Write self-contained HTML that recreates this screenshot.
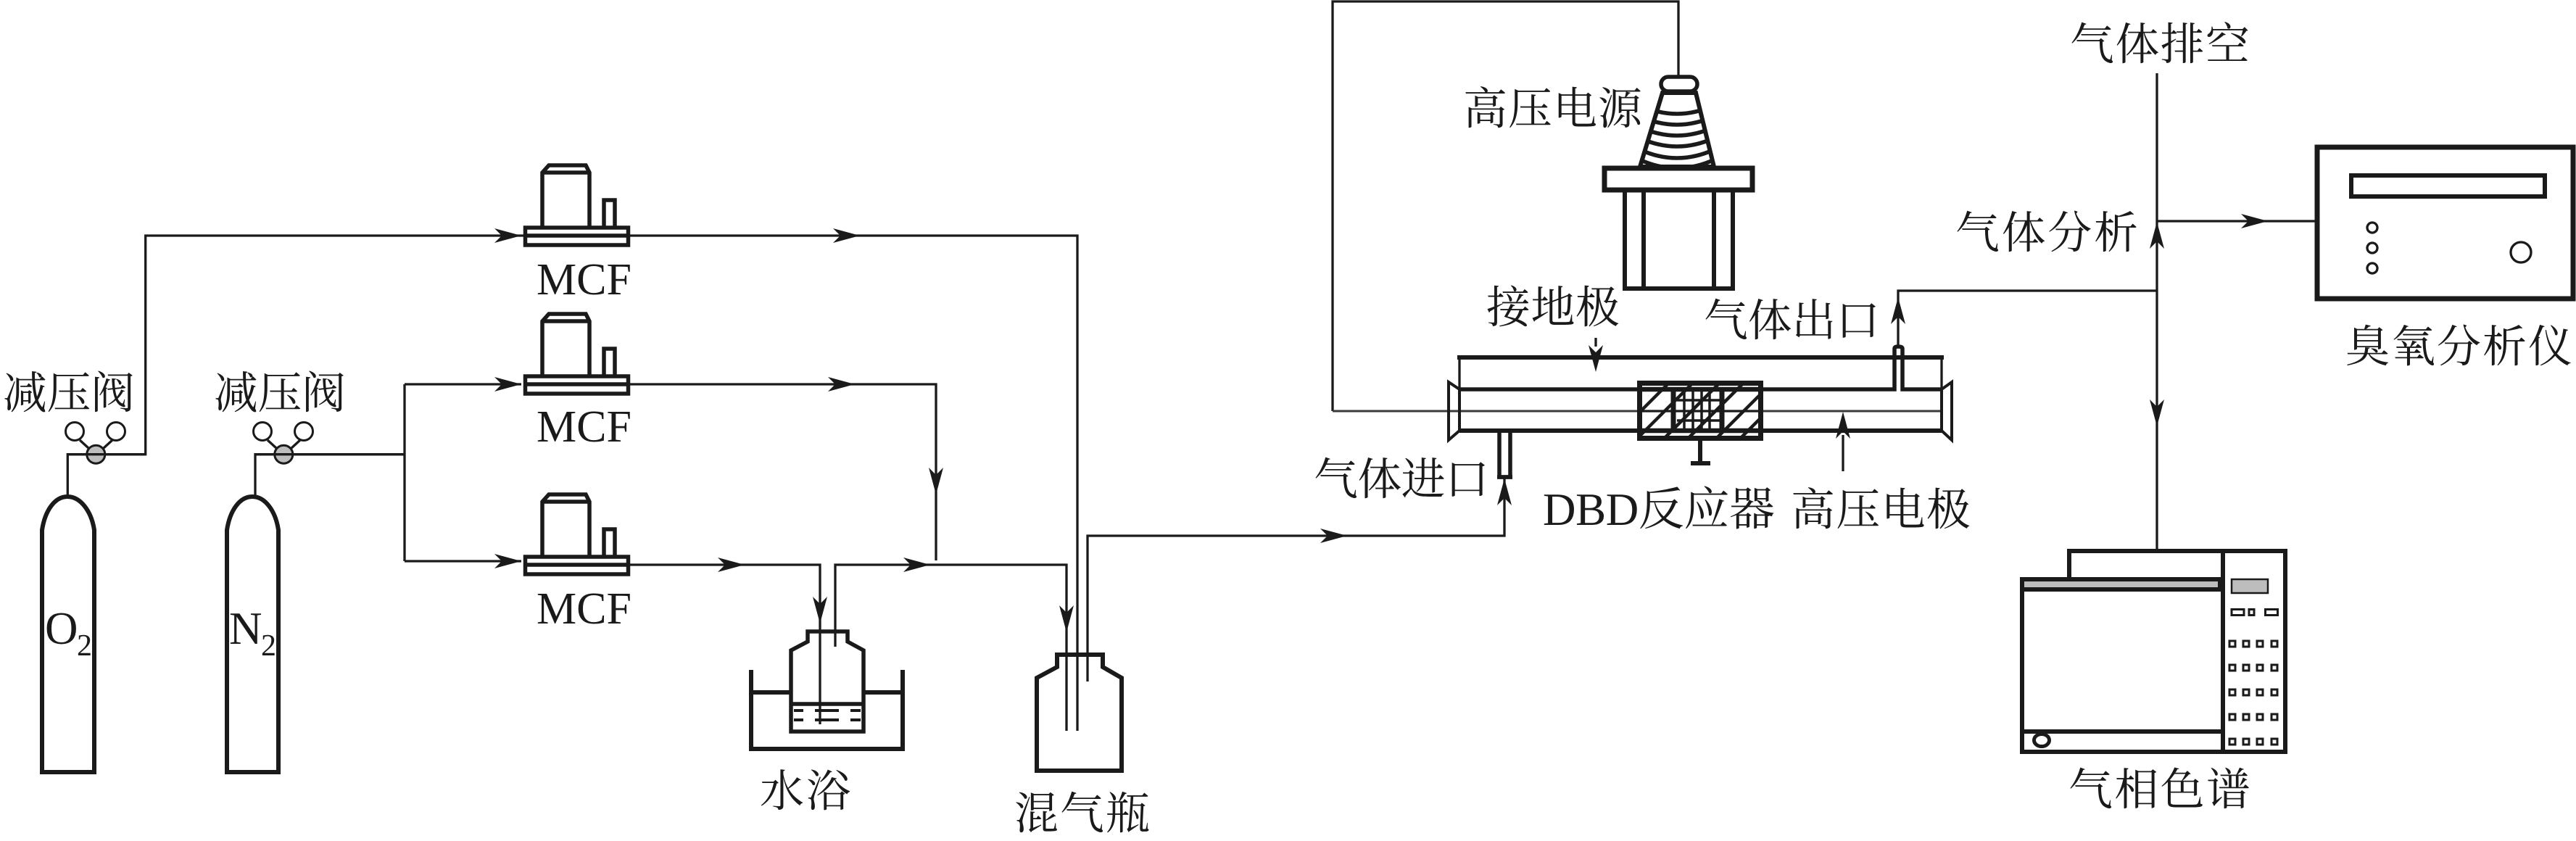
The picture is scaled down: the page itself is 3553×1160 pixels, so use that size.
<!DOCTYPE html>
<html lang="zh">
<head>
<meta charset="utf-8">
<title>DBD反应器实验装置示意图</title>
<style>
html,body{margin:0;padding:0;background:#fff}
svg{display:block}
text{font-family:"Liberation Serif","Noto Serif CJK SC",serif;fill:#1a1a1a;font-size:61px}
.l{fill:none;stroke:#1a1a1a;stroke-width:3.300}
.t{fill:none;stroke:#1a1a1a;stroke-width:6}
.m{fill:none;stroke:#1a1a1a;stroke-width:5.500}
.w{fill:#fff;stroke:#1a1a1a;stroke-width:5.500}
</style>
</head>
<body>
<svg width="3553" height="1160" viewBox="0 0 3553 1160" xmlns="http://www.w3.org/2000/svg">
<defs>
<path id="a" d="M0 0L-37 -10L-27 0L-37 10Z" fill="#1a1a1a"/>
<clipPath id="cone"><polygon points="2293,128 2339,128 2364,230 2262,230"/></clipPath>
<clipPath id="blk"><rect x="2262" y="528" width="167" height="77"/></clipPath>
<g id="mcf">
<rect x="724.500" y="-11" width="142" height="24" class="m"/>
<line x1="724.500" y1="0" x2="866.500" y2="0" class="m"/>
<path d="M748 -11V-87L757 -97H808L813 -87V-11M748 -87H813" class="m"/>
<path d="M833 -11V-49H848V-11" class="m"/>
</g>
</defs>
<rect width="3553" height="1160" fill="#fff"/>

<!-- gas cylinders -->
<path d="M58 1065V731C62 705 75 685 93 685C111 685 126 705 130 731V1065Z" class="t"/>
<path d="M313 1065V731C317 705 330 685 348 685C366 685 380 705 384 731V1065Z" class="t"/>
<text x="62" y="888" style="font-size:63px">O</text>
<text x="106" y="904" style="font-size:42px">2</text>
<text x="316" y="888" style="font-size:63px">N</text>
<text x="360" y="904" style="font-size:42px">2</text>

<!-- valves -->
<path d="M93.300 685V626.700H200.700V325H724" class="l"/>
<path d="M352 685V626.700H558M558 530V774M558 530H719M558 774H719" class="l"/>
<path d="M110 607L122 618M155 607L143 618M369 607L381 618M414 607L402 618" class="l"/>
<circle cx="103" cy="595" r="12.500" fill="#fff" stroke="#1a1a1a" stroke-width="3"/>
<circle cx="160" cy="595" r="12.500" fill="#fff" stroke="#1a1a1a" stroke-width="3"/>
<circle cx="362" cy="595" r="12.500" fill="#fff" stroke="#1a1a1a" stroke-width="3"/>
<circle cx="419" cy="595" r="12.500" fill="#fff" stroke="#1a1a1a" stroke-width="3"/>
<circle cx="132.300" cy="626.700" r="12.500" fill="#bdbdbd" stroke="#1a1a1a" stroke-width="3"/>
<circle cx="391.300" cy="626.700" r="12.500" fill="#bdbdbd" stroke="#1a1a1a" stroke-width="3"/>
<line x1="93.300" y1="626.700" x2="200.700" y2="626.700" stroke="#1a1a1a" stroke-width="3.300"/>
<line x1="352" y1="626.700" x2="558" y2="626.700" stroke="#1a1a1a" stroke-width="3.300"/>
<text x="4" y="563" textLength="182">减压阀</text>
<text x="295" y="563" textLength="182">减压阀</text>
<use href="#a" transform="translate(719,325)"/>
<use href="#a" transform="translate(719,530)"/>
<use href="#a" transform="translate(719,774)"/>

<!-- MCF units -->
<use href="#mcf" transform="translate(0,325)"/>
<use href="#mcf" transform="translate(0,530)"/>
<use href="#mcf" transform="translate(0,779)"/>
<text x="740" y="406" style="font-size:62px">MCF</text>
<text x="740" y="609" style="font-size:62px">MCF</text>
<text x="740" y="860" style="font-size:62px">MCF</text>

<!-- flow lines -->
<path d="M867 325H1486V1008" class="l"/>
<path d="M867 530H1291V773" class="l"/>
<path d="M867 779H1131V999" class="l"/>
<path d="M1152 892V779H1471V1008" class="l"/>
<path d="M1500 940V739H2075V660" class="l"/>
<use href="#a" transform="translate(1186,325)"/>
<use href="#a" transform="translate(1179,530)"/>
<use href="#a" transform="translate(1291,682) rotate(90)"/>
<use href="#a" transform="translate(1027,779)"/>
<use href="#a" transform="translate(1283,779)"/>
<use href="#a" transform="translate(1131,860) rotate(90)"/>
<use href="#a" transform="translate(1471,872) rotate(90)"/>
<use href="#a" transform="translate(1858,739)"/>
<use href="#a" transform="translate(2075,660) rotate(-90)"/>

<!-- water bath -->
<path d="M1036 924V1033H1245V924" class="t"/>
<path d="M1036 955H1091M1191 955H1245" class="t"/>
<path d="M1114 885V871H1169V885L1191 897V1009H1091V897Z" class="m"/>
<line x1="1091" y1="971" x2="1191" y2="971" class="m"/>
<path d="M1095 980H1108M1124 980H1157M1173 980H1187M1095 993H1108M1124 993H1157M1173 993H1187" class="l" style="stroke-width:4"/>
<text x="1048" y="1112" textLength="125">水浴</text>

<!-- mixing bottle -->
<path d="M1458 920V903H1521V920L1547 935V1063H1430V935Z" class="t"/>
<text x="1399" y="1143" textLength="187">混气瓶</text>

<!-- HV power supply -->
<path d="M1838 567V2H2315V104" class="l"/>
<path d="M2293 128L2262 230H2364L2339 128Z" fill="#fff" stroke="#1a1a1a" stroke-width="6"/>
<g clip-path="url(#cone)">
<path d="M2253 141Q2313 173 2373 141" class="m"/>
<path d="M2253 156Q2313 188 2373 156" class="m"/>
<path d="M2253 171Q2313 203 2373 171" class="m"/>
<path d="M2253 186Q2313 218 2373 186" class="m"/>
<path d="M2253 202Q2313 234 2373 202" class="m"/>
<path d="M2253 216Q2313 248 2373 216" class="m"/>
</g>
<rect x="2291" y="106" width="50" height="20" rx="10" class="w"/>
<rect x="2213" y="232" width="204" height="30" style="fill:#fff;stroke:#1a1a1a;stroke-width:7"/>
<path d="M2241 265V398H2390V265M2267 265V398M2364 265V398" class="t"/>
<text x="2018" y="171" textLength="247">高压电源</text>

<!-- reactor -->
<path d="M2013 537V493M2678 493V537" class="l"/>
<line x1="2010" y1="493" x2="2681" y2="493" class="t"/>
<line x1="1838" y1="567" x2="2677" y2="567" stroke="#3a3a3a" stroke-width="3"/>
<path d="M2013 537H2613V481Q2613 478 2618 478Q2624 478 2624 481V537H2678" class="m"/>
<line x1="2013" y1="594" x2="2678" y2="594" class="t"/>
<path d="M2013 537V594L1998 607V527Z" fill="none" stroke="#1a1a1a" stroke-width="4"/>
<path d="M2678 537V594L2692 607V527Z" fill="none" stroke="#1a1a1a" stroke-width="4"/>
<path d="M2068 597V658H2083V597" class="m"/>
<line x1="2065" y1="658" x2="2086" y2="658" class="m"/>

<!-- electrode block -->
<rect x="2261" y="528" width="168" height="77" fill="#fff"/>
<path d="M2261 537H2429M2261 594H2429" stroke="#1a1a1a" stroke-width="6.500" fill="none"/>
<line x1="2261" y1="567" x2="2429" y2="567" stroke="#1a1a1a" stroke-width="3.300"/>
<path d="M2323 540V592M2335 540V592M2347 540V592M2358 540V592M2313 552H2372M2313 580H2372" stroke="#1a1a1a" stroke-width="3.500" fill="none"/>
<g clip-path="url(#blk)" stroke="#1a1a1a" stroke-width="4.500">
<line x1="2220" y1="610" x2="2310" y2="520"/>
<line x1="2253" y1="610" x2="2343" y2="520"/>
<line x1="2290" y1="610" x2="2380" y2="520"/>
<line x1="2323" y1="610" x2="2413" y2="520"/>
<line x1="2362" y1="610" x2="2452" y2="520"/>
<line x1="2395" y1="610" x2="2485" y2="520"/>
</g>
<path d="M2308 537V594M2375 537V594" stroke="#1a1a1a" stroke-width="7" fill="none"/>
<rect x="2261.500" y="528.500" width="167" height="76" fill="none" stroke="#1a1a1a" stroke-width="7"/>
<line x1="2345" y1="608" x2="2345" y2="638" class="t"/>
<rect x="2332" y="636" width="27" height="6" fill="#1a1a1a"/>

<path d="M2618 478V401H2975" class="l"/>
<use href="#a" transform="translate(2618,410) rotate(-90)"/>
<line x1="2201" y1="466" x2="2201" y2="478" class="l"/>
<use href="#a" transform="translate(2201,513) rotate(90)"/>
<line x1="2542" y1="650" x2="2542" y2="600" class="l"/>
<use href="#a" transform="translate(2542,568) rotate(-90)"/>
<text x="2050" y="445" textLength="184">接地极</text>
<text x="2350" y="463" textLength="243">气体出口</text>
<text x="1812" y="682" textLength="242">气体进口</text>
<text x="2128" y="724" style="font-size:63px" textLength="320">DBD反应器</text>
<text x="2470" y="724" textLength="248">高压电极</text>

<!-- outlets -->
<path d="M2975 101V757" class="l"/>
<path d="M2975 305H3194" class="l"/>
<use href="#a" transform="translate(2975,306) rotate(-90)"/>
<use href="#a" transform="translate(3128,305)"/>
<use href="#a" transform="translate(2975,588) rotate(90)"/>
<text x="2855" y="82" textLength="248">气体排空</text>
<text x="2697" y="342" textLength="252">气体分析</text>

<!-- ozone analyzer -->
<rect x="3196" y="203" width="353" height="209" class="t" style="stroke-width:7"/>
<rect x="3243" y="242" width="267" height="29" class="t"/>
<circle cx="3272" cy="314" r="7" class="l"/>
<circle cx="3272" cy="342" r="7" class="l"/>
<circle cx="3272" cy="370" r="7" class="l"/>
<circle cx="3477" cy="348" r="14" class="l"/>
<text x="3235" y="499" textLength="313">臭氧分析仪</text>

<!-- gas chromatograph -->
<path d="M2854 799V760H3152V1037H2789V799H3066" class="t"/>
<line x1="3066" y1="760" x2="3066" y2="1037" class="t"/>
<rect x="2792" y="802" width="267" height="8" fill="#bdbdbd"/>
<rect x="2792" y="810" width="271" height="6" fill="#1a1a1a"/>
<rect x="3059" y="802" width="4" height="8" fill="#1a1a1a"/>
<line x1="2792" y1="1009" x2="3063" y2="1009" class="t"/>
<ellipse cx="2816" cy="1021" rx="10.500" ry="8.500" fill="#fff" stroke="#1a1a1a" stroke-width="5"/>
<rect x="3078" y="799" width="50" height="19" fill="#bdbdbd" stroke="#1a1a1a" stroke-width="2.500"/>
<g fill="#fff" stroke="#1a1a1a" stroke-width="3">
<rect x="3078" y="840.500" width="17" height="8"/><rect x="3102" y="840.500" width="7" height="8"/><rect x="3124.500" y="840.500" width="17" height="8"/>
<rect x="3075" y="884" width="8" height="8"/><rect x="3094" y="884" width="8" height="8"/><rect x="3113" y="884" width="8" height="8"/><rect x="3133" y="884" width="8" height="8"/>
<rect x="3075" y="917" width="8" height="8"/><rect x="3094" y="917" width="8" height="8"/><rect x="3113" y="917" width="8" height="8"/><rect x="3133" y="917" width="8" height="8"/>
<rect x="3075" y="951" width="8" height="8"/><rect x="3094" y="951" width="8" height="8"/><rect x="3113" y="951" width="8" height="8"/><rect x="3133" y="951" width="8" height="8"/>
<rect x="3075" y="985" width="8" height="8"/><rect x="3094" y="985" width="8" height="8"/><rect x="3113" y="985" width="8" height="8"/><rect x="3133" y="985" width="8" height="8"/>
<rect x="3075" y="1019" width="8" height="8"/><rect x="3094" y="1019" width="8" height="8"/><rect x="3113" y="1019" width="8" height="8"/><rect x="3133" y="1019" width="8" height="8"/>
</g>
<text x="2853" y="1110" textLength="251">气相色谱</text>
</svg>
</body>
</html>
